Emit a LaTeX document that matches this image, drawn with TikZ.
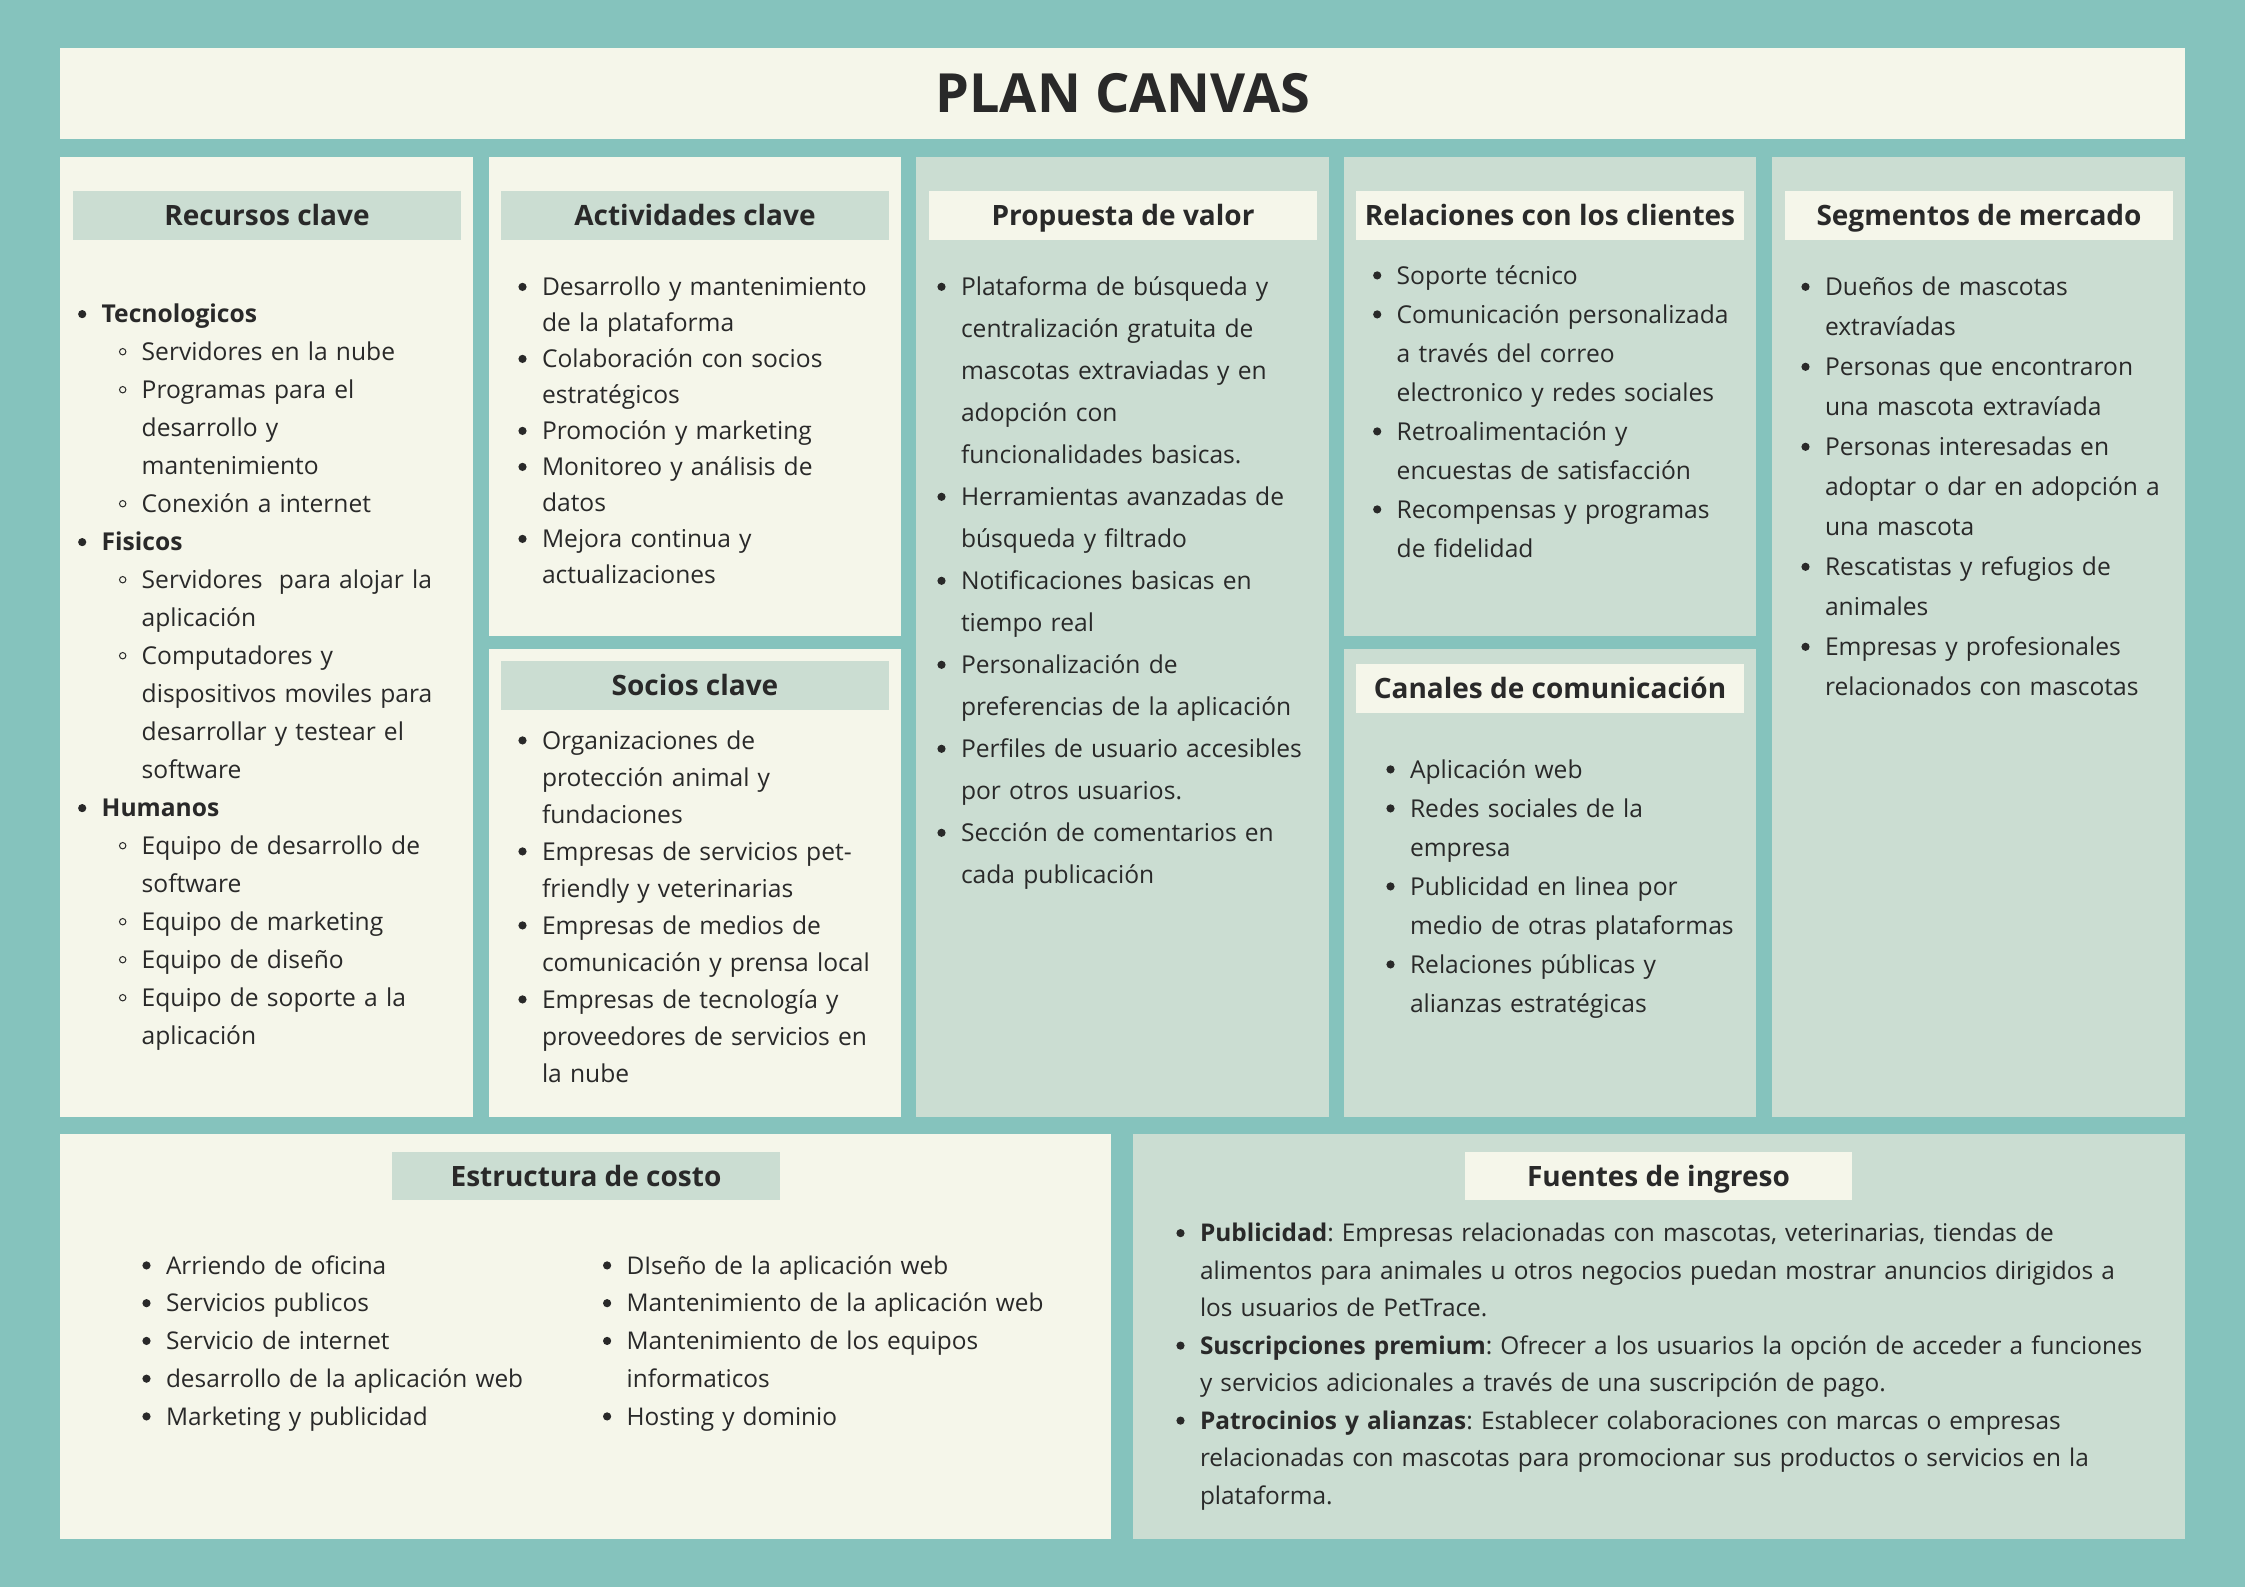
\documentclass[tikz,border=0pt]{standalone}
\usepackage{fontspec}
\setmainfont{Open Sans}
\definecolor{bg}{HTML}{85C3BD}
\definecolor{cream}{HTML}{F5F6EA}
\definecolor{sage}{HTML}{CBDDD2}
\definecolor{ink}{HTML}{292929}
\newcommand\bdot{\tikz[baseline=0pt]\fill[ink] (0pt,4.3pt) circle (2.05pt);}
\newcommand\wdot{\tikz[baseline=0pt]\draw[ink,line width=0.5pt] (0pt,4.5pt) circle (1.6pt);}
\newcommand\nl{\hfil\break}
\newcommand\itmA[1]{\noindent\llap{\makebox[0pt]{\bdot}\hspace{9.75pt}}#1}
\newcommand\itm[1]{\par\itmA{#1}}
\newcommand\sitm[1]{\par\noindent\hangindent=20pt\hangafter=1\hspace*{20pt}\llap{\makebox[0pt]{\wdot}\hspace{9.5pt}}#1}
\newcommand\bodyfont[2]{\fontsize{#1pt}{#2pt}\selectfont\parskip=0pt\parindent=0pt\frenchspacing}
\newcommand\panel[6]{\node[panelbox,fill=#6,minimum width={(#4-#2)*0.5pt},minimum height={(#5-#3)*0.5pt}] (#1) at (#2,#3) {};}
\newcommand\hdr[7]{\node[hdrbox,fill=#6,minimum width={(#4-#2)*0.5pt},minimum height={(#5-#3)*0.5pt}] (#1) at ({(#2+#4)/2},{(#3+#5)/2}) {#7};}
\tikzset{
  panelbox/.style={draw=none,inner sep=0pt,outer sep=0pt,anchor=north west},
  hdrbox/.style={draw=none,inner sep=0pt,outer sep=0pt,anchor=center,text=ink,
    font=\fontsize{14pt}{16pt}\selectfont\bfseries,text height=10pt,text depth=0pt},
  lst/.style={anchor=base west,inner sep=0pt,outer sep=0pt,text=ink,text width=#1},
  lst/.default=260pt
}
\begin{document}
\begin{tikzpicture}[x=0.5pt,y=-0.5pt]
\path[use as bounding box,fill=bg] (0,0) rectangle (2245,1587);
% panels
\panel{title}{60}{48}{2185}{139}{cream}
\panel{recursos}{60}{157}{473}{1117}{cream}
\panel{actividades}{489}{157}{901}{636}{cream}
\panel{socios}{489}{649}{901}{1117}{cream}
\panel{propuesta}{916}{157}{1329}{1117}{sage}
\panel{relaciones}{1344}{157}{1756}{636}{sage}
\panel{canales}{1344}{649}{1756}{1117}{sage}
\panel{segmentos}{1772}{157}{2185}{1117}{sage}
\panel{estructura}{60}{1134}{1111}{1539}{cream}
\panel{fuentes}{1133}{1134}{2185}{1539}{sage}
% title
\node[anchor=base,inner sep=0pt,text=ink,font=\fontsize{27pt}{30pt}\selectfont\bfseries] (titletext) at (1123,112.7) {PLAN CANVAS};
% headers
\hdr{hrec}{73}{191}{461}{240}{sage}{Recursos clave}
\hdr{hact}{501}{191}{889}{240}{sage}{Actividades clave}
\hdr{hsoc}{501}{661}{889}{710}{sage}{Socios clave}
\hdr{hpro}{929}{191}{1317}{240}{cream}{Propuesta de valor}
\hdr{hrel}{1356}{191}{1744}{240}{cream}{Relaciones con los clientes}
\hdr{hcan}{1356}{664}{1744}{713}{cream}{Canales de comunicación}
\hdr{hseg}{1785}{191}{2173}{240}{cream}{Segmentos de mercado}
\hdr{hest}{392}{1152}{780}{1200}{sage}{Estructura de costo}
\hdr{hfue}{1465}{1152}{1852}{1200}{cream}{Fuentes de ingreso}
% lists
\node[lst,font={\bodyfont{12.3}{19}}] (lrec) at (101.7,322.7) {%
\itmA{\textbf{Tecnologicos}}%
\sitm{Servidores en la nube}%
\sitm{Programas para el\nl desarrollo y\nl mantenimiento}%
\sitm{Conexión a internet}%
\itm{\textbf{Fisicos}}%
\sitm{Servidores\ \ para alojar la\nl aplicación}%
\sitm{Computadores y\nl dispositivos moviles para\nl desarrollar y testear el\nl software}%
\itm{\textbf{Humanos}}%
\sitm{Equipo de desarrollo de\nl software}%
\sitm{Equipo de marketing}%
\sitm{Equipo de diseño}%
\sitm{Equipo de soporte a la\nl aplicación}\par};
\node[lst,font={\bodyfont{12.3}{18}}] (lact) at (542,295.5) {%
\itmA{Desarrollo y mantenimiento\nl de la plataforma}%
\itm{Colaboración con socios\nl estratégicos}%
\itm{Promoción y marketing}%
\itm{Monitoreo y análisis de\nl datos}%
\itm{Mejora continua y\nl actualizaciones}\par};
\node[lst,font={\bodyfont{12.3}{18.5}}] (lsoc) at (542,749) {%
\itmA{Organizaciones de\nl protección animal y\nl fundaciones}%
\itm{Empresas de servicios pet-\nl friendly y veterinarias}%
\itm{Empresas de medios de\nl comunicación y prensa local}%
\itm{Empresas de tecnología y\nl proveedores de servicios en\nl la nube}\par};
\node[lst,font={\bodyfont{12.3}{21}}] (lpro) at (961,295.4) {%
\itmA{Plataforma de búsqueda y\nl centralización gratuita de\nl mascotas extraviadas y en\nl adopción con\nl funcionalidades basicas.}%
\itm{Herramientas avanzadas de\nl búsqueda y filtrado}%
\itm{Notificaciones basicas en\nl tiempo real}%
\itm{Personalización de\nl preferencias de la aplicación}%
\itm{Perfiles de usuario accesibles\nl por otros usuarios.}%
\itm{Sección de comentarios en\nl cada publicación}\par};
\node[lst,font={\bodyfont{12.3}{19.5}}] (lrel) at (1396.7,284) {%
\itmA{Soporte técnico}%
\itm{Comunicación personalizada\nl a través del correo\nl electronico y redes sociales}%
\itm{Retroalimentación y\nl encuestas de satisfacción}%
\itm{Recompensas y programas\nl de fidelidad}\par};
\node[lst,font={\bodyfont{12.3}{19.5}}] (lcan) at (1410,778) {%
\itmA{Aplicación web}%
\itm{Redes sociales de la\nl empresa}%
\itm{Publicidad en linea por\nl medio de otras plataformas}%
\itm{Relaciones públicas y\nl alianzas estratégicas}\par};
\node[lst,font={\bodyfont{12.3}{20}}] (lseg) at (1825,295.4) {%
\itmA{Dueños de mascotas\nl extravíadas}%
\itm{Personas que encontraron\nl una mascota extravíada}%
\itm{Personas interesadas en\nl adoptar o dar en adopción a\nl una mascota}%
\itm{Rescatistas y refugios de\nl animales}%
\itm{Empresas y profesionales\nl relacionados con mascotas}\par};
\node[lst,font={\bodyfont{12.2}{18.875}}] (lest1) at (166,1274) {%
\itmA{Arriendo de oficina}%
\itm{Servicios publicos}%
\itm{Servicio de internet}%
\itm{desarrollo de la aplicación web}%
\itm{Marketing y publicidad}\par};
\node[lst,font={\bodyfont{12.2}{18.875}}] (lest2) at (626.6,1274) {%
\itmA{DIseño de la aplicación web}%
\itm{Mantenimiento de la aplicación web}%
\itm{Mantenimiento de los equipos\nl informaticos}%
\itm{Hosting y dominio}\par};
\node[lst=520pt,font={\bodyfont{12.2}{18.75}}] (lfue) at (1200,1241.7) {%
\itmA{\textbf{Publicidad}: Empresas relacionadas con mascotas, veterinarias, tiendas de\nl alimentos para animales u otros negocios puedan mostrar anuncios dirigidos a\nl los usuarios de PetTrace.}%
\itm{\textbf{Suscripciones premium}: Ofrecer a los usuarios la opción de acceder a funciones\nl y servicios adicionales a través de una suscripción de pago.}%
\itm{\textbf{Patrocinios y alianzas}: Establecer colaboraciones con marcas o empresas\nl relacionadas con mascotas para promocionar sus productos o servicios en la\nl plataforma.}\par};
\end{tikzpicture}
\end{document}
